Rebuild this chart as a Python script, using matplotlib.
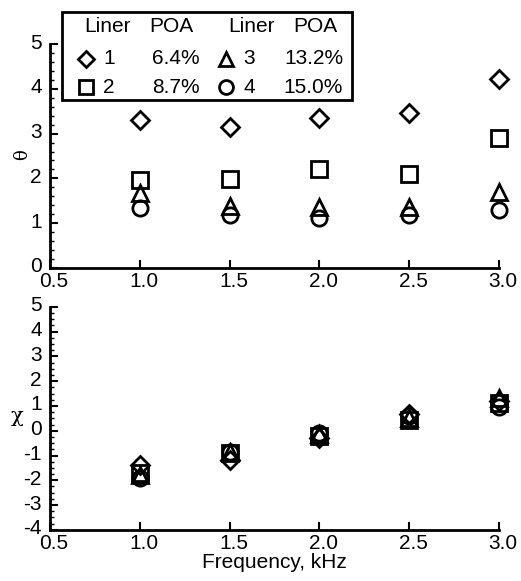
import matplotlib.pyplot as plt
import numpy as np
from matplotlib.lines import Line2D
from matplotlib.patches import Rectangle
from matplotlib.ticker import MultipleLocator
from matplotlib.transforms import ScaledTranslation

plt.rcParams['font.family'] = ['Liberation Sans', 'DejaVu Sans']

freq = [1.0, 1.5, 2.0, 2.5, 3.0]
liners = ['1', '2', '3', '4']
poa = ['6.4%', '8.7%', '13.2%', '15.0%']
markers = ['D', 's', '^', 'o']
msizes = [9, 11, 11, 11]

theta = [
    [3.30, 3.15, 3.36, 3.47, 4.23],
    [1.96, 1.99, 2.21, 2.10, 2.91],
    [1.67, 1.38, 1.36, 1.36, 1.70],
    [1.33, 1.18, 1.11, 1.18, 1.29],
]
chi = [
    [-1.40, -1.20, -0.28, 0.68, 1.20],
    [-1.70, -0.90, -0.20, 0.43, 1.10],
    [-1.80, -0.85, -0.13, 0.50, 1.30],
    [-1.90, -0.85, -0.10, 0.60, 0.97],
]

fig = plt.figure(figsize=(5.21, 5.81), dpi=100)
ax1 = fig.add_axes([0.096, 0.539, 0.862, 0.385])
ax2 = fig.add_axes([0.096, 0.088, 0.862, 0.384])


def style(ax, ylim, ymaj, ymin):
    ax.set_xlim(0.5, 3.0)
    ax.set_ylim(*ylim)
    ax.xaxis.set_major_locator(MultipleLocator(0.5))
    ax.yaxis.set_major_locator(MultipleLocator(ymaj))
    ax.yaxis.set_minor_locator(MultipleLocator(ymin))
    ax.xaxis.set_major_formatter(plt.FormatStrFormatter('%.1f'))
    ax.yaxis.set_major_formatter(plt.FormatStrFormatter('%d'))
    for s in ['top', 'right']:
        ax.spines[s].set_visible(False)
    for s in ['left', 'bottom']:
        ax.spines[s].set_linewidth(2)
    ax.tick_params(which='major', direction='in', length=6, width=1.5,
                   labelsize=15)
    ax.tick_params(which='minor', direction='in', length=3, width=1)
    ax.tick_params(axis='x', pad=3)
    ax.tick_params(axis='y', pad=6)
    ax.patch.set_alpha(0)


for i in range(4):
    ax1.plot(freq, theta[i], ls='none', marker=markers[i], ms=msizes[i],
             mfc='none', mec='black', mew=2, clip_on=False)
    ax2.plot(freq, chi[i], ls='none', marker=markers[i], ms=msizes[i],
             mfc='none', mec='black', mew=2, clip_on=False)

style(ax1, (0, 5), 1, 0.2)
style(ax2, (-4, 5), 1, 0.25)
ax2.set_xlabel('Frequency, kHz', fontsize=15, labelpad=0)

fig.text(22 / 521, 1 - 155 / 581, 'θ', rotation=90, fontsize=13,
         ha='center', va='center', family=['DejaVu Serif'])
fig.text(17 / 521, 1 - 417 / 581, 'χ', fontsize=15, ha='center', va='center',
         family=['DejaVu Serif'])

# legend table
W, H = 521, 581


def fx(x):
    return x / W


def fy(y):
    return 1 - y / H


fig.add_artist(Rectangle((fx(62), fy(100)), fx(290), 88 / H, fill=True,
                         facecolor='white', edgecolor='black', lw=2,
                         transform=fig.transFigure))
hdr_y = 27
for x, t in [(107, 'Liner'), (171, 'POA'), (251, 'Liner'), (315, 'POA')]:
    fig.text(fx(x), fy(hdr_y), t, fontsize=15, ha='center', va='center')
rows = [59, 87, 59, 87]
mx = [86, 86, 226, 226]
for i in range(4):
    fig.add_artist(Line2D([fx(mx[i])], [fy(rows[i])], marker=markers[i],
                          ms=msizes[i] - 1, mfc='none', mec='black', mew=2,
                          transform=fig.transFigure))
    fig.text(fx(mx[i] + 17), fy(rows[i]), liners[i], fontsize=15,
             ha='left', va='center')
    fig.text(fx(200 if i < 2 else 343), fy(rows[i]), poa[i], fontsize=15,
             ha='right', va='center')

# tick labels sit a few pixels off their ticks in the original
fig.canvas.draw()
yshift = ScaledTranslation(0, 3 / 100, fig.dpi_scale_trans)
xshift = ScaledTranslation(4 / 100, 0, fig.dpi_scale_trans)
for ax in (ax1, ax2):
    for tick in ax.yaxis.get_major_ticks():
        tick.label1.set_transform(tick.label1.get_transform() + yshift)
    for tick in ax.xaxis.get_major_ticks():
        tick.label1.set_transform(tick.label1.get_transform() + xshift)

fig.savefig('out.png', dpi=100)
